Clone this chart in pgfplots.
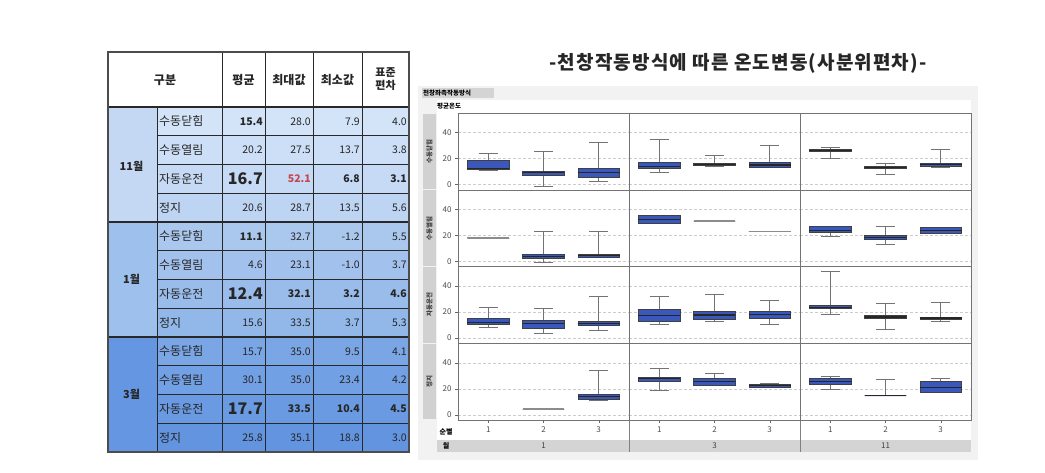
\documentclass[border=0pt]{standalone}
\usepackage{pgfplots}
\pgfplotsset{compat=1.18}
\usepgfplotslibrary{statistics}
\usepackage{fontspec}
\setmainfont{Noto Sans CJK KR}
\definecolor{boxblue}{RGB}{58,88,188}
\definecolor{tline}{RGB}{40,40,40}
\definecolor{numred}{RGB}{200,70,80}
\definecolor{g11}{RGB}{196,216,244}
\definecolor{g1}{RGB}{158,192,236}
\definecolor{g3}{RGB}{100,150,225}
\pgfplotsset{
 panel/.style={scale only axis, width=171pt, height=76.75pt, anchor=north west,
  xmin=0.45, xmax=3.55, ymin=-4, ymax=55,
  ytick={0,20,40}, xtick={1,2,3},
  ymajorgrids, grid style={densely dashed, black!20},
  axis line style={black!55},
  tick align=outside, major tick length=3pt,
  xtick pos=bottom, ytick pos=left,
  xticklabels={}, yticklabels={},
  xtick style={draw=none}, ytick style={draw=none},
  ticklabel style={font=\fontsize{8}{9}\selectfont, text=black!70},
  /pgf/number format/assume math mode=true,
  boxplot/draw direction=y,
  boxplot/box extend=0.76, boxplot/whisker extend=0.35,
  boxplot/every box/.style={draw=black!75, fill=boxblue},
  boxplot/every whisker/.style={draw=black!55},
  boxplot/every median/.style={draw=black!85, line width=1.1pt},
 },
 leftcol/.style={yticklabels={0,20,40}, ytick style={draw=black!60}},
 botrow/.style={xticklabels={1,2,3}, xtick style={draw=black!60}},
 gl/.style={boxplot/every box/.style={draw=black!45}, boxplot/every median/.style={draw=black!45, line width=0.8pt}},
}
\newcommand{\rowtext}[6]{%
 \pgfmathsetmacro\yc{-(121.375+28.75*#1)}%
 \node[anchor=west, font=\fontsize{12}{13}\selectfont] at (159,\yc) {#2};
 \node[anchor=east] at (263,\yc) {#3};
 \node[anchor=east] at (311,\yc) {#4};
 \node[anchor=east] at (360,\yc) {#5};
 \node[anchor=east] at (407,\yc) {#6};
}
\begin{document}
\begin{tikzpicture}[x=1pt,y=1pt]
\path[use as bounding box, fill=white] (0,0) rectangle (1045,-472);
% ---------------- table ----------------
\fill[white] (108,-52) rectangle (409,-107);
\foreach \i/\r/\g/\b in {0/212/228/248,1/205/223/247,2/198/218/245,3/190/212/243,
 4/170/199/238,5/162/194/237,6/154/188/235,7/146/183/233,
 8/122/166/230,9/114/160/228,10/106/154/226,11/98/148/224}{
 \fill[fill={rgb,255:red,\r;green,\g;blue,\b}] (157,{-(107+28.75*\i)}) rectangle (409,{-(107+28.75*(\i+1))});
}
\fill[g11] (108,-107) rectangle (157,-222);
\fill[g1] (108,-222) rectangle (157,-337);
\fill[g3] (108,-337) rectangle (157,-452);
\foreach \i in {1,2,3,5,6,7,9,10,11}{
 \draw[tline, line width=1pt] (157,{-(107+28.75*\i)}) -- (409,{-(107+28.75*\i)});
}
\foreach \yy in {107,222,337}{\draw[tline, line width=1.2pt] (108,-\yy) -- (409,-\yy);}
\draw[tline, line width=1pt] (157,-107) -- (157,-452);
\foreach \xx in {222,265,313,362}{\draw[tline, line width=1pt] (\xx,-52) -- (\xx,-452);}
\draw[black!70, line width=1.2pt] (108,-52) rectangle (409,-452);
\begin{scope}[every node/.style={font=\fontsize{10.5}{12}\selectfont, text=black!85, inner sep=0pt}]
\node[font=\fontsize{12}{13}\selectfont\bfseries] at (165,-80) {구분};
\node[font=\fontsize{12}{13}\selectfont\bfseries] at (243.5,-80) {평균};
\node[font=\fontsize{12}{13}\selectfont\bfseries] at (289,-80) {최대값};
\node[font=\fontsize{12}{13}\selectfont\bfseries] at (337.5,-80) {최소값};
\node[font=\fontsize{11}{12.5}\selectfont\bfseries, align=center] at (385.5,-79) {표준\\편차};
\node[font=\fontsize{11}{12}\selectfont\bfseries] at (131.5,-166) {11월};
\node[font=\fontsize{11}{12}\selectfont\bfseries] at (131.5,-279.5) {1월};
\node[font=\fontsize{11}{12}\selectfont\bfseries] at (131.5,-394.5) {3월};
\rowtext{0}{수동닫힘}{\textbf{15.4}}{28.0}{7.9}{4.0}
\rowtext{1}{수동열림}{20.2}{27.5}{13.7}{3.8}
\rowtext{2}{자동운전}{\fontsize{16}{17}\selectfont\bfseries 16.7}{\textcolor{numred}{\bfseries 52.1}}{\textbf{6.8}}{\textbf{3.1}}
\rowtext{3}{정지}{20.6}{28.7}{13.5}{5.6}
\rowtext{4}{수동닫힘}{\textbf{11.1}}{32.7}{-1.2}{5.5}
\rowtext{5}{수동열림}{4.6}{23.1}{-1.0}{3.7}
\rowtext{6}{자동운전}{\fontsize{16}{17}\selectfont\bfseries 12.4}{\textbf{32.1}}{\textbf{3.2}}{\textbf{4.6}}
\rowtext{7}{정지}{15.6}{33.5}{3.7}{5.3}
\rowtext{8}{수동닫힘}{15.7}{35.0}{9.5}{4.1}
\rowtext{9}{수동열림}{30.1}{35.0}{23.4}{4.2}
\rowtext{10}{자동운전}{\fontsize{16}{17}\selectfont\bfseries 17.7}{\textbf{33.5}}{\textbf{10.4}}{\textbf{4.5}}
\rowtext{11}{정지}{25.8}{35.1}{18.8}{3.0}
\end{scope}
% ---------------- title ----------------
\node[font=\fontsize{19}{20}\selectfont\bfseries\addfontfeatures{LetterSpace=6}, text=black!85] at (738,-63) {-천창작동방식에 따른 온도변동(사분위편차)-};
% ---------------- box plot frame ----------------
\fill[black!5] (418,-86) rectangle (978,-460);
\fill[white] (437,-100) rectangle (971,-440);
\fill[black!17] (422,-88) rectangle (494,-98);
\node[anchor=west, inner sep=0pt, font=\fontsize{6.5}{7}\selectfont\bfseries] at (423,-93) {천창좌측작동방식};
\node[anchor=west, inner sep=0pt, font=\fontsize{6.5}{7}\selectfont\bfseries] at (437,-106.5) {평균온도};
\foreach \yt/\yb/\lab in {113/189.75/수동닫힘,189.75/266.5/수동열림,266.5/343.25/자동운전,343.25/420/정지}{
 \fill[black!18] (423,-\yt-0.6) rectangle (436,-\yb+0.6);
 \node[rotate=90, inner sep=0pt, font=\fontsize{6.5}{7}\selectfont\bfseries, text=black!75] at (429.5,{-(\yt+\yb)/2}) {\lab};
}
\fill[black!17] (437,-440) rectangle (971,-452);
\node[inner sep=0pt, font=\fontsize{7}{8}\selectfont\bfseries] at (446,-432) {순별};
\node[inner sep=0pt, font=\fontsize{7}{8}\selectfont\bfseries] at (446,-446) {월};
\node[inner sep=0pt, font=\fontsize{8}{9}\selectfont, text=black!75] at (543.5,-446) {1};
\node[inner sep=0pt, font=\fontsize{8}{9}\selectfont, text=black!75] at (714.5,-446) {3};
\node[inner sep=0pt, font=\fontsize{8}{9}\selectfont, text=black!75] at (885.5,-446) {11};
\draw[black!50] (629,-420) -- (629,-452);
\draw[black!50] (800,-420) -- (800,-452);
% ---------------- row 1: 수동닫힘 ----------------
\begin{axis}[panel, leftcol, at={(458pt,-113pt)}]
\addplot[boxplot prepared={draw position=1, lower whisker=11, lower quartile=12, median=12.5, upper quartile=18.5, upper whisker=24.3}] coordinates {};
\addplot[boxplot prepared={draw position=2, lower whisker=-1, lower quartile=7.5, median=9, upper quartile=10, upper whisker=26}] coordinates {};
\addplot[boxplot prepared={draw position=3, lower whisker=2.5, lower quartile=5.8, median=9.6, upper quartile=12.7, upper whisker=32.4}] coordinates {};
\end{axis}
\begin{axis}[panel, at={(629pt,-113pt)}]
\addplot[boxplot prepared={draw position=1, lower whisker=9.6, lower quartile=12.7, median=14, upper quartile=17.2, upper whisker=35}] coordinates {};
\addplot[boxplot prepared={draw position=2, lower whisker=14, lower quartile=14.5, median=15.7, upper quartile=16.5, upper whisker=22.8}] coordinates {};
\addplot[boxplot prepared={draw position=3, lower whisker=13.4, lower quartile=13.4, median=15, upper quartile=17.2, upper whisker=30}] coordinates {};
\end{axis}
\begin{axis}[panel, at={(800pt,-113pt)}]
\addplot[boxplot prepared={draw position=1, lower whisker=20.3, lower quartile=25.3, median=26.3, upper quartile=27.3, upper whisker=28.6}] coordinates {};
\addplot[boxplot prepared={draw position=2, lower whisker=7.6, lower quartile=12.2, median=13.2, upper quartile=14.2, upper whisker=16.2}] coordinates {};
\addplot[boxplot prepared={draw position=3, lower whisker=13.4, lower quartile=14.2, median=15.7, upper quartile=16.7, upper whisker=26.8}] coordinates {};
\end{axis}
% ---------------- row 2: 수동열림 ----------------
\begin{axis}[panel, leftcol, at={(458pt,-189.75pt)}]
\addplot[gl, boxplot prepared={draw position=1, lower whisker=18, lower quartile=18, median=18, upper quartile=18, upper whisker=18}] coordinates {};
\addplot[boxplot prepared={draw position=2, lower whisker=-0.5, lower quartile=2, median=4, upper quartile=5.8, upper whisker=23.3}] coordinates {};
\addplot[boxplot prepared={draw position=3, lower whisker=3, lower quartile=3.3, median=4.5, upper quartile=5.3, upper whisker=23.3}] coordinates {};
\end{axis}
\begin{axis}[panel, at={(629pt,-189.75pt)}]
\addplot[boxplot prepared={draw position=1, lower whisker=29.4, lower quartile=29.4, median=32.4, upper quartile=35.4, upper whisker=35.4}] coordinates {};
\addplot[gl, boxplot prepared={draw position=2, lower whisker=31.1, lower quartile=31.1, median=31.1, upper quartile=31.1, upper whisker=31.1}] coordinates {};
\addplot[gl, boxplot prepared={draw position=3, lower whisker=23.3, lower quartile=23.3, median=23.3, upper quartile=23.3, upper whisker=23.3}] coordinates {};
\end{axis}
\begin{axis}[panel, at={(800pt,-189.75pt)}]
\addplot[boxplot prepared={draw position=1, lower whisker=19.2, lower quartile=22.3, median=24, upper quartile=27.3, upper whisker=27.3}] coordinates {};
\addplot[boxplot prepared={draw position=2, lower whisker=13.4, lower quartile=16.7, median=18.5, upper quartile=20.3, upper whisker=26.8}] coordinates {};
\addplot[boxplot prepared={draw position=3, lower whisker=21.8, lower quartile=21.8, median=23.5, upper quartile=26, upper whisker=26}] coordinates {};
\end{axis}
% ---------------- row 3: 자동운전 ----------------
\begin{axis}[panel, leftcol, at={(458pt,-266.5pt)}]
\addplot[boxplot prepared={draw position=1, lower whisker=8.5, lower quartile=10.5, median=12.3, upper quartile=14.9, upper whisker=24.1}] coordinates {};
\addplot[boxplot prepared={draw position=2, lower whisker=3.6, lower quartile=7.4, median=11, upper quartile=13.6, upper whisker=23.3}] coordinates {};
\addplot[boxplot prepared={draw position=3, lower whisker=6.4, lower quartile=10, median=11.5, upper quartile=13.1, upper whisker=31.8}] coordinates {};
\end{axis}
\begin{axis}[panel, at={(629pt,-266.5pt)}]
\addplot[boxplot prepared={draw position=1, lower whisker=11, lower quartile=13.1, median=17, upper quartile=22, upper whisker=31.8}] coordinates {};
\addplot[boxplot prepared={draw position=2, lower whisker=12.6, lower quartile=14.4, median=17.7, upper quartile=20.8, upper whisker=33.6}] coordinates {};
\addplot[boxplot prepared={draw position=3, lower whisker=11, lower quartile=15.1, median=18.2, upper quartile=20.8, upper whisker=29.2}] coordinates {};
\end{axis}
\begin{axis}[panel, at={(800pt,-266.5pt)}]
\addplot[boxplot prepared={draw position=1, lower whisker=18.2, lower quartile=22.6, median=23.8, upper quartile=25.4, upper whisker=51.5}] coordinates {};
\addplot[boxplot prepared={draw position=2, lower whisker=6.7, lower quartile=15.1, median=16.2, upper quartile=17.2, upper whisker=26.9}] coordinates {};
\addplot[boxplot prepared={draw position=3, lower whisker=12.6, lower quartile=14.4, median=15.4, upper quartile=16.2, upper whisker=27.4}] coordinates {};
\end{axis}
% ---------------- row 4: 정지 ----------------
\begin{axis}[panel, leftcol, botrow, at={(458pt,-343.25pt)}]
\addplot[gl, boxplot prepared={draw position=2, lower whisker=4.6, lower quartile=4.6, median=4.6, upper quartile=4.6, upper whisker=4.6}] coordinates {};
\addplot[boxplot prepared={draw position=3, lower whisker=11.6, lower quartile=12.1, median=14.2, upper quartile=15.8, upper whisker=34.1}] coordinates {};
\end{axis}
\begin{axis}[panel, botrow, at={(629pt,-343.25pt)}]
\addplot[boxplot prepared={draw position=1, lower whisker=19.1, lower quartile=25.6, median=27.6, upper quartile=29.2, upper whisker=35.9}] coordinates {};
\addplot[boxplot prepared={draw position=2, lower whisker=22.5, lower quartile=23, median=25.8, upper quartile=28.4, upper whisker=32.3}] coordinates {};
\addplot[boxplot prepared={draw position=3, lower whisker=21.2, lower quartile=21.2, median=22.2, upper quartile=23.3, upper whisker=24.3}] coordinates {};
\end{axis}
\begin{axis}[panel, botrow, at={(800pt,-343.25pt)}]
\addplot[boxplot prepared={draw position=1, lower whisker=19.9, lower quartile=23.3, median=25.8, upper quartile=28.4, upper whisker=29.7}] coordinates {};
\addplot[boxplot prepared={draw position=2, lower whisker=14.7, lower quartile=14.7, median=14.7, upper quartile=14.7, upper whisker=27.1}] coordinates {};
\addplot[boxplot prepared={draw position=3, lower whisker=17, lower quartile=17.3, median=20.7, upper quartile=25.6, upper whisker=27.9}] coordinates {};
\end{axis}
\end{tikzpicture}
\end{document}
